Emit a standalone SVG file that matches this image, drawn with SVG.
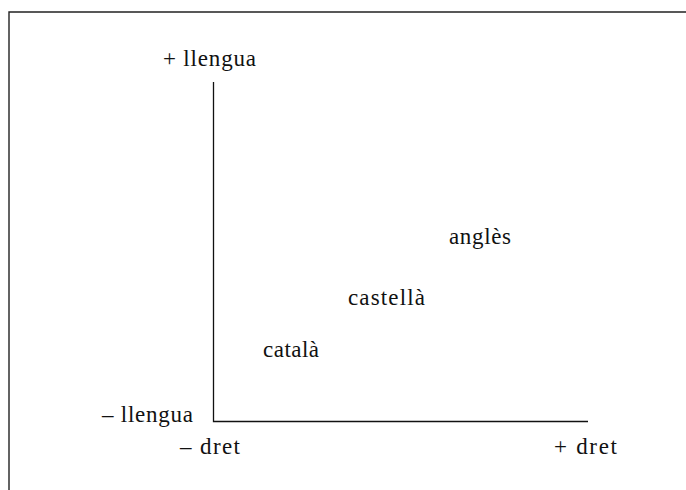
<svg xmlns="http://www.w3.org/2000/svg" width="686" height="490" viewBox="0 0 686 490">
<style>
text{font-family:"Liberation Serif","Times New Roman",serif;font-size:23px;fill:#111}
.ax{stroke:#111;stroke-width:1.3;fill:none}
.fr{stroke:#222;stroke-width:1.4;fill:none}
</style>
<rect width="686" height="490" fill="#fff"/>
<path class="fr" d="M9,490 V12 H686"/>
<g id="connectors">
<path class="ax" d="M213.5,82 V421.5 H588"/>
</g>
<g id="y-top"><text x="163" y="66" textLength="93" lengthAdjust="spacing">+ llengua</text></g>
<g id="y-bottom"><text x="102" y="422" textLength="91" lengthAdjust="spacing">– llengua</text></g>
<g id="x-left"><text x="180" y="454" textLength="60" lengthAdjust="spacing">– dret</text></g>
<g id="x-right"><text x="554" y="454" textLength="63" lengthAdjust="spacing">+ dret</text></g>
<g id="angles"><text x="449" y="244" textLength="62" lengthAdjust="spacing">anglès</text></g>
<g id="castella"><text x="348" y="305" textLength="77" lengthAdjust="spacing">castellà</text></g>
<g id="catala"><text x="263" y="357" textLength="56" lengthAdjust="spacing">català</text></g>
</svg>
